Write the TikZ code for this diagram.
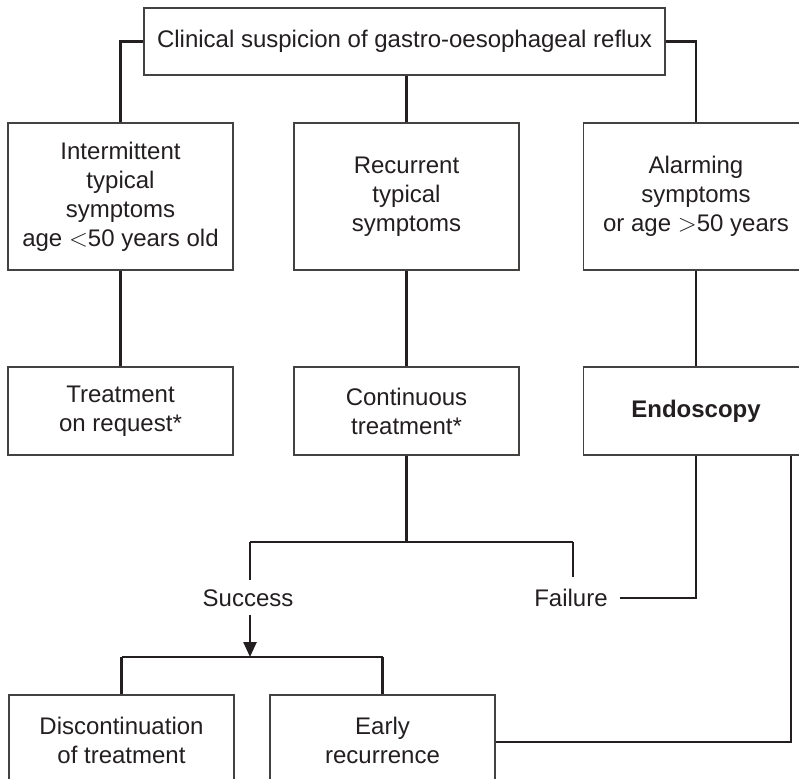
\documentclass[tikz,border=0pt]{standalone}
\usepackage{fontspec}
\setmainfont{Liberation Sans}
\usetikzlibrary{arrows.meta}
\definecolor{ink}{HTML}{231F20}
\begin{document}
\begin{tikzpicture}[x=1pt,y=-1pt,
  every node/.style={font=\fontsize{24}{29}\selectfont, text=ink},
  box/.style={draw=ink!85, line width=1.1pt, fill=white, inner sep=0pt,
              align=center, minimum width=225pt},
  tall/.style={box, minimum height=147pt},
  short/.style={box, minimum height=88pt},
  label/.style={inner sep=0pt},
  link/.style={draw=ink, line width=2.5pt},
  arrowlink/.style={link, -{Triangle[length=15pt,width=13pt]}}]
\useasboundingbox (0,0) rectangle (799,778);

% top decision
\node[box, minimum width=521pt, minimum height=67pt] (top) at (404.5,41.5)
  {Clinical suspicion of gastro-oesophageal reflux};

% first row
\node[tall] (int) at (120.5,196.5) {Intermittent\\typical\\symptoms\\age $<$50 years old};
\node[tall] (rec) at (406.5,196.5) {Recurrent\\typical\\symptoms};
\node[tall] (alarm) at (696,196.5) {Alarming\\symptoms\\or age $>$50 years};

% second row
\node[short] (req) at (120.5,411) {Treatment\\on request*};
\node[short] (cont) at (406.5,411) {Continuous\\treatment*};
\node[short] (endo) at (696,411) {\bfseries Endoscopy};

% outcomes
\node[label] (succ) at (248,598) {Success};
\node[label] (fail) at (571,598) {Failure};

% bottom row
\node[box, minimum height=90pt] (disc) at (121.5,740) {Discontinuation\\of treatment};
\node[box, minimum height=90pt] (early) at (382.5,740) {Early\\recurrence};

% junction points
\coordinate (split) at (406.5,542);
\coordinate (sl) at (250,542);
\coordinate (sr) at (573,542);
\coordinate (join) at (250,657);
\coordinate (jl) at (121.5,657);
\coordinate (jr) at (382.5,657);

% connectors from the top box
\draw[link] (top.west) -| (int.north);
\draw[link] (top.south -| rec.north) -- (rec.north);
\draw[link] (top.east) -| (alarm.north);

% first row to second row
\draw[link] (int.south) -- (req.north);
\draw[link] (rec.south) -- (cont.north);
\draw[link] (alarm.south) -- (endo.north);

% continuous treatment splits into success / failure
\draw[link] (cont.south) -- (split);
\draw[link] (sl) -- (sr);
\draw[link] (sl) -- ([yshift=9pt]succ.north -| sl);
\draw[link] (sr) -- ([yshift=12pt]fail.north -| sr);

% failure leads to endoscopy
\draw[link] ([xshift=12pt]fail.east) -| (endo.south);

% success branch
\draw[arrowlink] ([yshift=-8pt]succ.south -| join) -- (join);
\draw[link] (jl) -- (jr);
\draw[link] (jl) -- (disc.north);
\draw[link] (jr) -- (early.north);

% early recurrence back to endoscopy
\draw[link] (early.east |- 0,742) -| (endo.south -| 791,0);
\end{tikzpicture}
\end{document}
